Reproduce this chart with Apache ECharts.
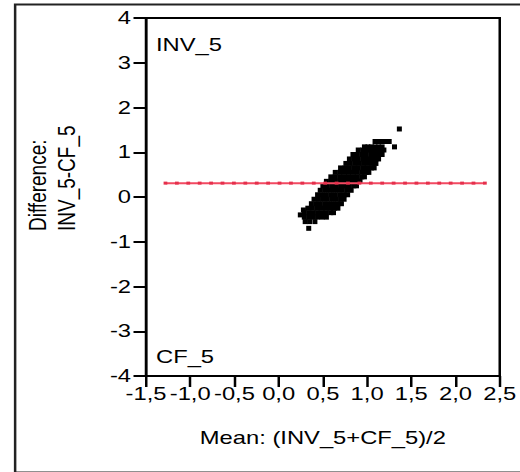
<!DOCTYPE html>
<html>
<head>
<meta charset="utf-8">
<script src="https://cdn.jsdelivr.net/npm/echarts@6/dist/echarts.min.js"></script>
<style>
  html, body { margin: 0; padding: 0; background: #fff; overflow: hidden; }
  /* the plot is laid out narrow and widened horizontally, as in the original export */
  #chart { width: 416px; height: 472px; transform: scaleX(1.25); transform-origin: 0 0; }
</style>
</head>
<body>
<div id="chart"></div>
<script>
// Bland–Altman: difference INV_5 - CF_5 against the mean of both
const xTickValues = [-1.5, -1.0, -0.5, 0.0, 0.5, 1.0, 1.5, 2.0, 2.5];
const yTickValues = [-4, -3, -2, -1, 0, 1, 2, 3, 4];
const yTitleLines = ['Difference:', 'INV_5-CF_5'];

// observed points, grouped by difference value: [difference, [means...]]
const cloudRows = [
  [1.52, [1.365]],
  [1.24, [1.09, 1.13, 1.17, 1.21, 1.25]],
  [1.12, [0.97, 1.01, 1.05, 1.09, 1.13, 1.17, 1.31]],
  [1.05, [0.90, 0.95, 1.00, 1.05, 1.10, 1.15, 1.19]],
  [0.95, [0.84, 0.89, 0.94, 0.99, 1.04, 1.09, 1.13, 1.17]],
  [0.85, [0.80, 0.85, 0.90, 0.95, 1.00, 1.05, 1.10, 1.13]],
  [0.75, [0.76, 0.81, 0.86, 0.91, 0.96, 1.01, 1.06, 1.10]],
  [0.65, [0.70, 0.75, 0.80, 0.85, 0.90, 0.95, 1.00, 1.05, 1.08]],
  [0.55, [0.64, 0.69, 0.74, 0.79, 0.84, 0.89, 0.94, 0.99, 1.02]],
  [0.45, [0.59, 0.64, 0.69, 0.74, 0.79, 0.84, 0.89, 0.94, 0.97]],
  [0.35, [0.54, 0.59, 0.64, 0.69, 0.74, 0.79, 0.84, 0.89, 0.92]],
  [0.25, [0.50, 0.55, 0.60, 0.65, 0.70, 0.75, 0.80, 0.85, 0.88]],
  [0.15, [0.47, 0.52, 0.57, 0.62, 0.67, 0.72, 0.77, 0.82]],
  [0.05, [0.44, 0.49, 0.54, 0.59, 0.64, 0.69, 0.74, 0.78]],
  [-0.05, [0.40, 0.45, 0.50, 0.55, 0.60, 0.65, 0.70, 0.74]],
  [-0.15, [0.37, 0.42, 0.47, 0.52, 0.57, 0.62, 0.67, 0.71]],
  [-0.25, [0.33, 0.38, 0.43, 0.48, 0.53, 0.58, 0.63, 0.67]],
  [-0.29, [0.28]],
  [-0.35, [0.29, 0.34, 0.39, 0.44, 0.49, 0.54, 0.59, 0.62]],
  [-0.40, [0.245]],
  [-0.45, [0.29, 0.34, 0.39, 0.44, 0.49, 0.54]],
  [-0.55, [0.30, 0.35, 0.41]],
  [-0.70, [0.34]]
];

// mean difference line and the positions of its markers
const meanDifference = 0.31;
const meanLineX = [-1.280, -1.151, -1.022, -0.893, -0.764, -0.635, -0.506, -0.377, -0.248, -0.119,
  0.010, 0.139, 0.268, 0.397, 0.526, 0.655, 0.784, 0.913, 1.042, 1.171,
  1.300, 1.429, 1.558, 1.687, 1.816, 1.945, 2.074, 2.203, 2.332];

const cloudPoints = cloudRows.flatMap(([d, means]) => means.map(m => [m, d]));
const meanLine = meanLineX.map(x => [x, meanDifference]);

const FONT = '"Liberation Sans", Arial, sans-serif';
const chart = echarts.init(document.getElementById('chart'), null, { renderer: 'svg' });

// rotated y-axis title, both lines starting from the same baseline point
const yTitle = yTitleLines.map((line, i) => ({
  type: 'text',
  x: 30.8 + i * 23,
  y: 231,
  rotation: Math.PI / 2,
  style: { text: line, fill: '#000', font: '19px ' + FONT, align: 'left', verticalAlign: 'middle' }
}));

chart.setOption({
  animation: false,
  backgroundColor: '#fff',
  textStyle: { fontFamily: FONT },
  grid: { left: 116.8, right: 13.6, top: 18, bottom: 96, show: true, borderColor: '#000', borderWidth: 2, containLabel: false },
  xAxis: {
    type: 'value',
    min: xTickValues[0], max: xTickValues[xTickValues.length - 1], interval: 0.5,
    splitLine: { show: false },
    axisLine: { onZero: false, lineStyle: { color: '#000', width: 2 } },
    axisTick: { show: true, length: 11, lineStyle: { color: '#000', width: 2 } },
    axisLabel: { color: '#000', fontSize: 19, fontFamily: FONT, margin: 8,
      formatter: v => v.toFixed(1).replace('.', ',') },
    name: 'Mean: (INV_5+CF_5)/2',
    nameLocation: 'middle', nameGap: 52,
    nameTextStyle: { color: '#000', fontSize: 19, fontFamily: FONT }
  },
  yAxis: {
    type: 'value',
    min: yTickValues[0], max: yTickValues[yTickValues.length - 1], interval: 1,
    splitLine: { show: false },
    axisLine: { onZero: false, lineStyle: { color: '#000', width: 2 } },
    axisTick: { show: true, length: 10, lineStyle: { color: '#000', width: 2 } },
    axisLabel: { color: '#000', fontSize: 19, fontFamily: FONT, margin: 12 }
  },
  graphic: [
    { type: 'rect', left: 9.6, top: 2, shape: { width: 430, height: 468 },
      style: { fill: 'none', stroke: '#222', lineWidth: 2 }, silent: true, z: 100 },
    { type: 'text', left: 124.8, top: 35, style: { text: 'INV_5', fill: '#000', font: '19px ' + FONT } },
    { type: 'text', left: 124.8, top: 347, style: { text: 'CF_5', fill: '#000', font: '19px ' + FONT } },
    ...yTitle
  ],
  series: [
    {
      type: 'scatter',
      data: cloudPoints,
      symbol: 'rect',
      symbolSize: [4, 5],
      itemStyle: { color: '#000', opacity: 1 },
      z: 2
    },
    {
      type: 'line',
      data: meanLine,
      symbol: 'rect',
      symbolSize: [3, 3],
      showSymbol: true,
      lineStyle: { color: '#f24a62', width: 2 },
      itemStyle: { color: '#e5304c', opacity: 1 },
      z: 3
    }
  ]
});
</script>
</body>
</html>
